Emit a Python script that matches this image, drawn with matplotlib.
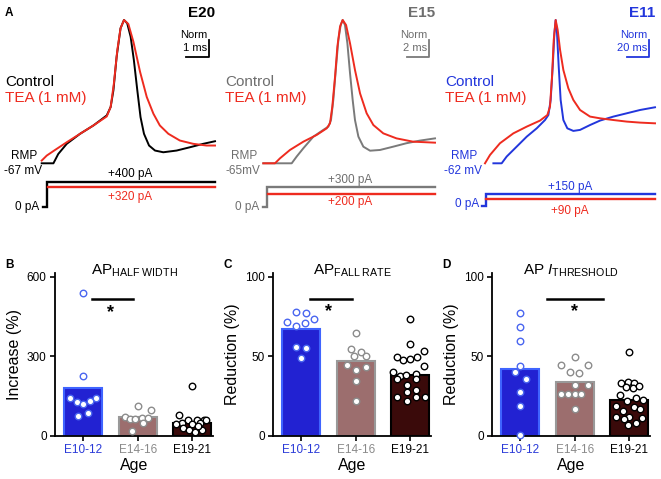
import matplotlib.pyplot as plt

plt.rcParams['font.family'] = 'Liberation Sans'
plt.rcParams['mathtext.fontset'] = 'custom'
plt.rcParams['mathtext.rm'] = 'Liberation Sans'
plt.rcParams['mathtext.it'] = 'Liberation Sans:italic'

W, H = 661, 479

BLUE = '#2236dc'
RED = '#ee2b1f'
GRAY = '#7a7a7a'

# ---- A: action potentials (time in ms, voltage normalised: RMP = 0, peak = 1)
e20_ctrl_t = [0, 0.51, 0.72, 1.09, 1.67, 2.25, 2.83, 3.00, 3.12, 3.26, 3.43, 3.58, 3.72, 3.87, 4.01,
              4.16, 4.30, 4.45, 4.67, 4.93, 5.29, 5.87, 6.45, 7.03, 7.54]
e20_ctrl_v = [0, 0, 0.065, 0.136, 0.206, 0.264, 0.334, 0.393, 0.509, 0.743, 0.942, 1.0, 0.977, 0.883, 0.720,
              0.509, 0.322, 0.206, 0.124, 0.089, 0.077, 0.089, 0.112, 0.136, 0.154]
e20_tea_t = [0, 0.22, 0.58, 1.09, 1.67, 2.25, 2.83, 3.00, 3.14, 3.29, 3.43, 3.58, 3.77, 3.99, 4.28,
             4.57, 4.86, 5.14, 5.51, 6.01, 6.59, 7.17, 7.54]
e20_tea_v = [0.019, 0.054, 0.093, 0.147, 0.206, 0.264, 0.327, 0.393, 0.556, 0.790, 0.942, 1.0, 0.972, 0.848, 0.638,
             0.463, 0.346, 0.264, 0.206, 0.159, 0.136, 0.124, 0.124]

e15_ctrl_t = [0, 2.58, 3.03, 3.64, 4.55, 5.45, 5.91, 6.15, 6.36, 6.61, 6.82, 7.03, 7.21, 7.42, 7.64,
              7.88, 8.12, 8.33, 8.64, 9.09, 9.70, 10.6, 11.8, 13.0, 14.2, 15.6]
e15_ctrl_v = [0, 0, 0.047, 0.105, 0.186, 0.233, 0.256, 0.302, 0.442, 0.674, 0.860, 0.965, 1.0, 0.965, 0.837,
              0.628, 0.442, 0.302, 0.186, 0.116, 0.088, 0.093, 0.116, 0.140, 0.158, 0.174]
e15_tea_t = [0, 1.06, 1.52, 2.42, 3.64, 4.85, 5.76, 6.06, 6.27, 6.52, 6.73, 6.97, 7.21, 7.52, 7.88,
             8.33, 8.79, 9.39, 10.0, 10.9, 12.1, 13.6, 15.6]
e15_tea_v = [0, 0, 0.035, 0.093, 0.151, 0.198, 0.244, 0.279, 0.395, 0.605, 0.814, 0.953, 1.0, 0.965, 0.837,
             0.651, 0.488, 0.349, 0.267, 0.209, 0.174, 0.151, 0.144]

e11_ctrl_t = [7.4, 14.7, 19.1, 27.9, 36.8, 45.6, 52.9, 55.9, 57.9, 59.7, 61.2, 62.3, 63.5, 65.0, 66.7,
              69.1, 72.6, 77.9, 83.8, 92.6, 101.4, 113.2, 125.0, 136.7, 149.9]
e11_ctrl_v = [0, 0, 0.047, 0.116, 0.186, 0.244, 0.302, 0.337, 0.442, 0.674, 0.907, 1.0, 0.907, 0.674, 0.442,
              0.302, 0.244, 0.226, 0.233, 0.267, 0.298, 0.326, 0.349, 0.372, 0.391]
e11_tea_t = [0, 4.4, 13.2, 25.0, 36.8, 48.5, 55.0, 57.3, 59.1, 60.6, 62.3, 64.1, 66.2, 69.1, 73.5,
             77.9, 83.8, 92.6, 101.4, 113.2, 125.0, 136.7, 149.9]
e11_tea_v = [0, 0.058, 0.140, 0.209, 0.256, 0.298, 0.337, 0.395, 0.605, 0.860, 1.0, 0.930, 0.791, 0.651, 0.523,
             0.442, 0.372, 0.326, 0.314, 0.302, 0.291, 0.284, 0.279]

ages_top = ['E20', 'E15', 'E11']
rmp_labels = ['-67 mV', '-65mV', '-62 mV']
ctrl_pA = [400, 300, 150]
tea_pA = [320, 200, 90]
scale_ms = [1, 2, 20]

# ---- B-D: TEA effect per age group
ages = ['E10-12', 'E14-16', 'E19-21']

hw_mean = [181, 71, 48]
hw_vals = [[540, 224, 142, 126, 121, 132, 143, 74, 87],
           [112, 97, 69, 64, 62, 66, 68, 49, 19],
           [189, 80, 59, 58, 59, 60, 49, 43, 47, 30, 21, 15, 21, 36, 43]]
hw_xoff = [[0.0, 0.0, -0.24, -0.12, 0.0, 0.12, 0.23, -0.10, 0.09],
           [0.0, 0.24, -0.24, -0.15, -0.06, 0.08, 0.18, 0.09, -0.10],
           [0.0, -0.25, -0.08, 0.08, 0.21, 0.26, -0.18, -0.01, 0.14, -0.17, -0.06, 0.05, 0.17, 0.11, -0.29]]

fr_mean = [67, 47, 38.4]
fr_vals = [[77.8, 77.2, 71.7, 69.0, 71.1, 73.6, 55.6, 55.2, 48.7],
           [64.8, 54.7, 52.6, 50.5, 50.1, 44.3, 43.0, 41.3, 34.6, 21.8],
           [73.8, 57.5, 49.3, 48.0, 48.3, 49.3, 53.5, 43.8, 40.0, 37.5, 38.0, 38.8, 36.0, 35.8, 32.1,
            29.0, 27.5, 24.5, 22.0, 24.1, 24.5]]
fr_xoff = [[-0.10, 0.08, -0.26, -0.10, 0.06, 0.23, -0.10, 0.08, 0.0],
           [0.0, -0.09, 0.09, 0.19, -0.04, -0.17, 0.19, 0.0, 0.0, 0.0],
           [0.0, 0.0, -0.24, -0.13, 0.0, 0.13, 0.25, 0.25, -0.31, -0.19, -0.07, 0.10, -0.24, 0.11, -0.06,
            0.11, -0.06, -0.24, -0.06, 0.11, 0.27]]

th_mean = [42, 34, 22.5]
th_vals = [[77.4, 68.6, 59.7, 44.0, 40.3, 35.5, 27.5, 18.9, 0.6],
           [49.7, 44.7, 44.7, 40.3, 39.2, 31.9, 31.9, 26.2, 26.2, 26.2, 26.2, 17.0],
           [53.0, 33.5, 33.8, 33.0, 30.5, 30.0, 31.0, 25.5, 24.0, 22.5, 22.0, 19.0, 18.0, 17.0, 15.5,
            12.0, 11.5, 11.0, 10.5, 8.0, 6.5]]
th_xoff = [[0, 0, 0, 0, -0.09, 0.10, 0, 0, 0],
           [0.0, -0.25, 0.24, -0.09, 0.08, 0.0, 0.24, -0.25, -0.12, 0.0, 0.12, 0.0],
           [0.0, -0.15, -0.03, 0.09, -0.06, 0.06, 0.18, -0.17, 0.12, 0.25, -0.05, -0.25, 0.08, 0.20, -0.12,
            -0.24, 0.0, 0.24, -0.10, 0.12, -0.02]]

fig = plt.figure(figsize=(W / 100, H / 100), dpi=100)


def px_axes(l, t, r, b):
    return fig.add_axes([l / W, 1 - b / H, (r - l) / W, (b - t) / H])


def px_text(x, y, s, **kw):
    fig.text(x / W, 1 - y / H, s, **kw)


# ---------------- top row ----------------
traces = [(e20_ctrl_t, e20_ctrl_v, e20_tea_t, e20_tea_v),
          (e15_ctrl_t, e15_ctrl_v, e15_tea_t, e15_tea_v),
          (e11_ctrl_t, e11_ctrl_v, e11_tea_t, e11_tea_v)]
ctrl_cols = ['black', GRAY, BLUE]
txt_cols = ['black', '#6e6e6e', BLUE]
lefts = [41.7, 263.3, 485]
rights = [215, 435, 655]
origins = [0, 220, 440]
step_t = [0.22, 0.31, 0.6]
tick_t = [0.04, 0.0, -2.4]
tea_start = [0.26, 0.39, 1.3]
i_ylim = [(-133, 587), (-128, 567), (-112, 450)]
tea_lbl_y = [(174, 197), (180, 202), (187, 211)]
zero_y = [207, 207, 204]

for k in range(3):
    ct, cv, tt, tv = traces[k]
    c = ctrl_cols[k]
    tc = txt_cols[k]
    ox = origins[k]
    t_end = ct[-1]

    ax = px_axes(lefts[k], 20, rights[k], 163.3)
    ax.set_xlim(0, t_end)
    ax.set_ylim(0, 1)
    ax.axis('off')
    ax.plot([0, t_end], [0, 0], ls=(0, (2.5, 2)), color='#aaaaaa', lw=0.7, zorder=1)
    ax.plot(ct, cv, color=c, lw=1.4, clip_on=False, zorder=2)
    ax.plot(tt, tv, color=RED, lw=1.4, clip_on=False, zorder=3)

    # scale bar
    xr = 0.967 * t_end
    ax.plot([xr - scale_ms[k], xr, xr], [0.74, 0.74, 0.86], color=c, lw=1.3, clip_on=False)
    px_text(rights[k] - 7.7, 35, 'Norm', ha='right', va='center', fontsize=8, color=tc)
    px_text(rights[k] - 7.7, 48, '%d ms' % scale_ms[k], ha='right', va='center', fontsize=8, color=tc)

    # current steps
    ai = px_axes(lefts[k], 170, rights[k], 215)
    ai.set_xlim(0, t_end)
    ai.set_ylim(*i_ylim[k])
    ai.axis('off')
    ai.plot([tick_t[k], step_t[k], step_t[k], t_end], [0, 0, ctrl_pA[k], ctrl_pA[k]],
            color=c, lw=1.7, clip_on=False, solid_joinstyle='miter')
    ai.plot([tea_start[k], t_end], [tea_pA[k], tea_pA[k]], color=RED, lw=1.7, clip_on=False)

    px_text(ox + 130, tea_lbl_y[k][0], '+%d pA' % ctrl_pA[k], ha='center', va='center', fontsize=8.5, color=tc)
    px_text(ox + 130, tea_lbl_y[k][1], '+%d pA' % tea_pA[k], ha='center', va='center', fontsize=8.5, color=RED)
    px_text(ox + 39, zero_y[k], '0 pA', ha='right', va='center', fontsize=8.5, color=tc)

    px_text(ox + 24, 156, 'RMP', ha='center', va='center', fontsize=8.5, color=tc)
    px_text(ox + 23, 171, rmp_labels[k], ha='center', va='center', fontsize=8.5, color=tc)

    px_text(ox + 5, 82, 'Control', ha='left', va='center', fontsize=11, color=tc)
    px_text(ox + 5, 98, 'TEA (1 mM)', ha='left', va='center', fontsize=11, color=RED)

    px_text(rights[k], 13, ages_top[k], ha='right', va='center', fontsize=11, fontweight='bold', color=tc)

px_text(5, 12.5, 'A', ha='left', va='center', fontsize=8.5, fontweight='bold')

# ---------------- bottom row ----------------
bar_faces = ['#2222d2', '#9c6e6e', '#3a0a0a']
bar_edges = ['#3f64ff', '#999999', 'black']
pt_edges = ['#4a66f0', '#8c8c8c', 'black']
tick_cols = ['#2a3ad8', '#8a8a8a', 'black']

panels = [
    ('B', 55, hw_mean, hw_vals, hw_xoff, 615, [0, 300, 600], 'Increase (%)',
     r'AP$_{\mathrm{HALF\ WIDTH}}$', (0.15, 0.92, 515), (0.50, 466)),
    ('C', 273, fr_mean, fr_vals, fr_xoff, 102.5, [0, 50, 100], 'Reduction (%)',
     r'AP$_{\mathrm{FALL\ RATE}}$', (0.15, 0.93, 86), (0.50, 78)),
    ('D', 492, th_mean, th_vals, th_xoff, 102.5, [0, 50, 100], 'Reduction (%)',
     r'AP $I_{\mathrm{THRESHOLD}}$', (0.49, 1.52, 86), (1.00, 78)),
]

for letter, left, means, vals, xoff, ytop, yt, ylab, title, sig, star in panels:
    ax = px_axes(left, 273, left + 158, 435.7)
    ax.bar(range(3), means, width=0.7, color=bar_faces, edgecolor=bar_edges, linewidth=1.5, zorder=2)
    for i in range(3):
        ax.scatter([i + d for d in xoff[i]], vals[i], s=22, facecolor='white', edgecolor=pt_edges[i],
                   linewidth=1.0, zorder=3, clip_on=False)
    ax.plot([sig[0], sig[1]], [sig[2], sig[2]], color='black', lw=1.8)
    ax.text(star[0], star[1], '*', ha='center', va='center', fontsize=13, fontweight='bold')

    ax.set_xlim(-0.52, 2.38)
    ax.set_ylim(0, ytop)
    ax.set_yticks(yt)
    ax.set_xticks(range(3))
    ax.set_xticklabels(ages)
    for lbl, c in zip(ax.get_xticklabels(), tick_cols):
        lbl.set_color(c)
    for s in ['top', 'right']:
        ax.spines[s].set_visible(False)
    for s in ['left', 'bottom']:
        ax.spines[s].set_linewidth(1.3)
    ax.tick_params(direction='out', length=3.5, width=1.2, labelsize=8.5, pad=2.5)
    ax.set_ylabel(ylab, fontsize=11.5)
    ax.yaxis.set_label_coords(-0.21, 0.5)
    ax.set_xlabel('Age', fontsize=11.5)
    ax.xaxis.set_label_coords(0.5, -0.14)
    ax.text(0.5, 0.99, title, transform=ax.transAxes, ha='center', va='baseline', fontsize=11)

    px_text(left - 50, 265, letter, ha='left', va='center', fontsize=8.5, fontweight='bold')

fig.savefig('out.png', dpi=100)
